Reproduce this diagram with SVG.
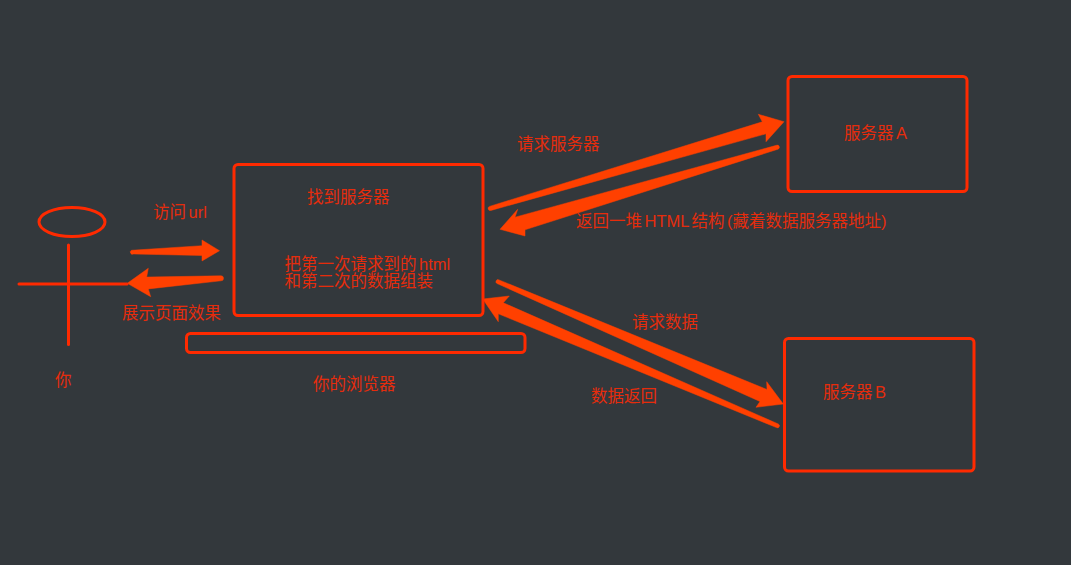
<svg xmlns="http://www.w3.org/2000/svg" width="1071" height="565" viewBox="0 0 1071 565">
<style>
.b{fill:none;stroke:#ff2a00;stroke-width:3;stroke-linecap:round}
.a{fill:#ff4000;stroke:#ff4000;stroke-width:.5;stroke-linejoin:round}
text{fill:#e62c0c;font-family:"Liberation Sans","Noto Sans CJK SC",sans-serif;font-size:16.5px;word-spacing:-2px}
</style>
<rect width="1071" height="565" fill="#33383c"/>
<g id="connectors">
<path class="a" d="M131.500 250.300L202 245.700L202 240L219.500 250.700L202 261L202 255.500L133.500 254A2 2 0 0 1 131.500 250.300Z"/>
<path class="a" d="M221 275.800A2.400 2.400 0 0 1 221 280.800L148.300 288.900L150.700 296.700L127.300 283.300L148.300 268.300L146.700 277.100Z"/>
<path class="a" d="M489.500 206.400L762.300 121.800L758.300 114.300L784 121.700L766 141.700L766 133.800L491 210.400A2 2 0 0 1 489.500 206.400Z"/>
<path class="a" d="M776.500 145.300A2 2 0 0 1 778 149.200L525 229.800L525 236L500 229.300L517.700 209.300L515 217.200Z"/>
<path class="a" d="M499 279.900L767 389.500L766.700 381.700L783.300 404L756 407.300L760 401.500L497 283.500A2 2 0 0 1 499 279.900Z"/>
<path class="a" d="M778.300 424A2 2 0 0 1 776.500 427.600L498.300 313.800L498.300 321.700L482.700 299L509.300 296L503.300 302.800Z"/>
</g>
<g id="you">
<ellipse class="b" cx="72" cy="222" rx="33" ry="14.500"/>
<path class="b" d="M68.500 245V344.500"/>
<path class="b" d="M19 284H127"/>
<text x="55" y="386">你</text>
</g>
<g id="browser">
<rect class="b" x="234" y="164.500" width="249" height="151" rx="4"/>
<rect class="b" x="186.500" y="333.500" width="338.500" height="19" rx="4"/>
<text x="307" y="203">找到服务器</text>
<text x="284.500" y="270">把第一次请求到的 html</text>
<text x="284.500" y="287">和第二次的数据组装</text>
<text x="313" y="390">你的浏览器</text>
</g>
<g id="server-a">
<rect class="b" x="788" y="76.500" width="179" height="115" rx="4"/>
<text x="844" y="139">服务器 A</text>
</g>
<g id="server-b">
<rect class="b" x="784.500" y="338.500" width="189.500" height="132.500" rx="4"/>
<text x="823" y="398">服务器 B</text>
</g>
<g id="labels">
<text x="153" y="218">访问 url</text>
<text x="122" y="319">展示页面效果</text>
<text x="517" y="150">请求服务器</text>
<text x="576" y="227">返回一堆 HTML 结构 (藏着数据服务器地址)</text>
<text x="632" y="328">请求数据</text>
<text x="591" y="402">数据返回</text>
</g>
</svg>
